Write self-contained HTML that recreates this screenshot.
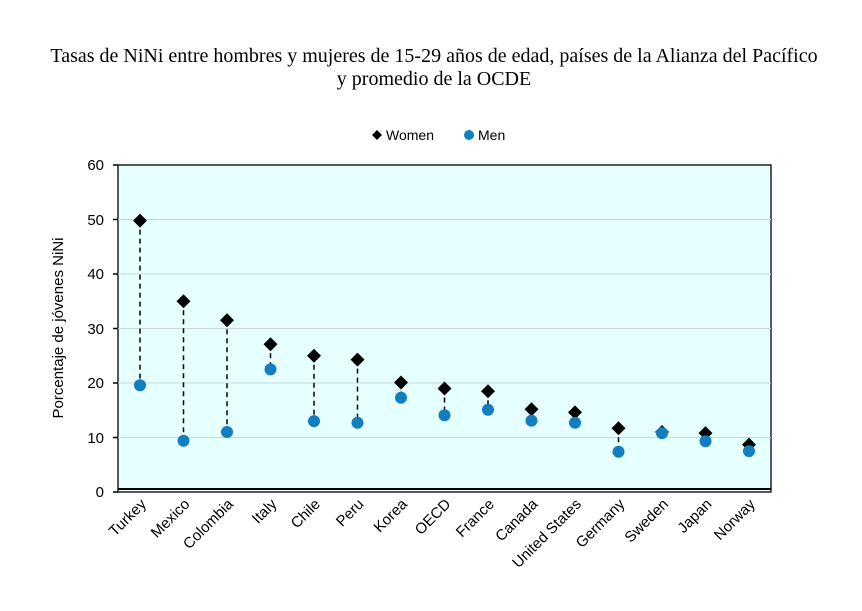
<!DOCTYPE html>
<html><head><style>body{margin:0;background:#fff}</style></head><body>
<svg width="862" height="606" xmlns="http://www.w3.org/2000/svg" font-family="Liberation Sans, sans-serif">
<defs>
<path id="dm" d="M0 -7 l7 7 l-7 7 l-7 -7z" fill="#000"/>
<circle id="cm" r="6" fill="#127dbf"/>
</defs>
<text x="434" y="62" text-anchor="middle" font-family="Liberation Serif, serif" font-size="20">Tasas de NiNi entre hombres y mujeres de 15-29 años de edad, países de la Alianza del Pacífico</text>
<text x="434" y="85" text-anchor="middle" font-family="Liberation Serif, serif" font-size="20">y promedio de la OCDE</text>
<path d="M377 130 l5 5 l-5 5 l-5 -5z" fill="#000"/>
<text x="386" y="140" font-size="14">Women</text>
<circle cx="469" cy="135" r="5" fill="#127dbf"/>
<text x="478" y="140" font-size="14">Men</text>
<rect x="118" y="165" width="653" height="327" fill="#e6ffff" stroke="#222" stroke-width="1.5"/>
<g stroke="#c8d8d8" stroke-width="1">
<line x1="118" x2="771" y1="219.5" y2="219.5"/><line x1="118" x2="771" y1="274" y2="274"/><line x1="118" x2="771" y1="328.5" y2="328.5"/><line x1="118" x2="771" y1="383" y2="383"/><line x1="118" x2="771" y1="437.5" y2="437.5"/>
</g>
<line x1="118" x2="771" y1="489" y2="489" stroke="#000" stroke-width="2"/>
<g stroke="#000" stroke-width="1.5"><line x1="113" x2="118" y1="165" y2="165"/><line x1="113" x2="118" y1="219.5" y2="219.5"/><line x1="113" x2="118" y1="274" y2="274"/><line x1="113" x2="118" y1="328.5" y2="328.5"/><line x1="113" x2="118" y1="383" y2="383"/><line x1="113" x2="118" y1="437.5" y2="437.5"/><line x1="113" x2="118" y1="492" y2="492"/></g>
<g font-size="15" text-anchor="end">
<text x="104" y="170">60</text><text x="104" y="225">50</text><text x="104" y="279">40</text><text x="104" y="334">30</text><text x="104" y="388">20</text><text x="104" y="443">10</text><text x="104" y="497">0</text>
</g>
<text transform="translate(63,328) rotate(-90)" text-anchor="middle" font-size="15">Porcentaje de jóvenes NiNi</text>
<g stroke="#000" stroke-width="1.5" stroke-dasharray="5,4">
<line x1="140" x2="140" y1="220.6" y2="385.2"/>
<line x1="183.5" x2="183.5" y1="301.25" y2="440.8"/>
<line x1="227" x2="227" y1="320.3" y2="432.05"/>
<line x1="270.5" x2="270.5" y1="344.3" y2="369.4"/>
<line x1="314" x2="314" y1="355.75" y2="421.15"/>
<line x1="357.5" x2="357.5" y1="359.6" y2="422.8"/>
<line x1="401" x2="401" y1="382.5" y2="397.7"/>
<line x1="444.5" x2="444.5" y1="388.45" y2="415.2"/>
<line x1="488" x2="488" y1="391.2" y2="409.7"/>
<line x1="531.5" x2="531.5" y1="409.2" y2="420.6"/>
<line x1="575" x2="575" y1="412.4" y2="422.8"/>
<line x1="618.5" x2="618.5" y1="428.2" y2="451.7"/>
<line x1="705.5" x2="705.5" y1="433.1" y2="441.3"/>
<line x1="749" x2="749" y1="444.6" y2="451.1"/>
</g>
<use href="#dm" x="140" y="220.6"/><use href="#cm" x="140" y="385.2"/>
<use href="#dm" x="183.5" y="301.25"/><use href="#cm" x="183.5" y="440.8"/>
<use href="#dm" x="227" y="320.3"/><use href="#cm" x="227" y="432.05"/>
<use href="#dm" x="270.5" y="344.3"/><use href="#cm" x="270.5" y="369.4"/>
<use href="#dm" x="314" y="355.75"/><use href="#cm" x="314" y="421.15"/>
<use href="#dm" x="357.5" y="359.6"/><use href="#cm" x="357.5" y="422.8"/>
<use href="#dm" x="401" y="382.5"/><use href="#cm" x="401" y="397.7"/>
<use href="#dm" x="444.5" y="388.45"/><use href="#cm" x="444.5" y="415.2"/>
<use href="#dm" x="488" y="391.2"/><use href="#cm" x="488" y="409.7"/>
<use href="#dm" x="531.5" y="409.2"/><use href="#cm" x="531.5" y="420.6"/>
<use href="#dm" x="575" y="412.4"/><use href="#cm" x="575" y="422.8"/>
<use href="#dm" x="618.5" y="428.2"/><use href="#cm" x="618.5" y="451.7"/>
<use href="#dm" x="662" y="432.05"/><use href="#cm" x="662" y="433.1"/>
<use href="#dm" x="705.5" y="433.1"/><use href="#cm" x="705.5" y="441.3"/>
<use href="#dm" x="749" y="444.6"/><use href="#cm" x="749" y="451.1"/>
<g font-size="15" text-anchor="end">
<text transform="translate(147,505) rotate(-45)">Turkey</text>
<text transform="translate(190.5,505) rotate(-45)">Mexico</text>
<text transform="translate(234,505) rotate(-45)">Colombia</text>
<text transform="translate(277.5,505) rotate(-45)">Italy</text>
<text transform="translate(321,505) rotate(-45)">Chile</text>
<text transform="translate(364.5,505) rotate(-45)">Peru</text>
<text transform="translate(408,505) rotate(-45)">Korea</text>
<text transform="translate(451.5,505) rotate(-45)">OECD</text>
<text transform="translate(495,505) rotate(-45)">France</text>
<text transform="translate(538.5,505) rotate(-45)">Canada</text>
<text transform="translate(582,505) rotate(-45)">United States</text>
<text transform="translate(625.5,505) rotate(-45)">Germany</text>
<text transform="translate(669,505) rotate(-45)">Sweden</text>
<text transform="translate(712.5,505) rotate(-45)">Japan</text>
<text transform="translate(756,505) rotate(-45)">Norway</text>
</g>
</svg>
</body></html>
